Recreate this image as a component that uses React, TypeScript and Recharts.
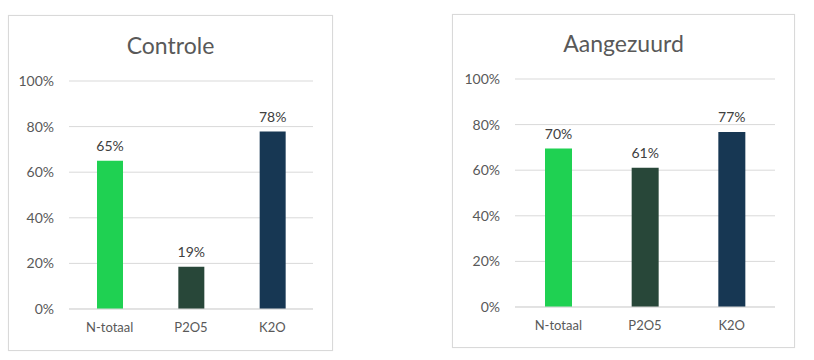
import React from "react";
import { BarChart, Bar, XAxis, YAxis, CartesianGrid, LabelList, Cell } from "recharts";

const categories = ["N-totaal", "P2O5", "K2O"];
const controleValues = [0.65, 0.185, 0.778];
const aangezuurdValues = [0.695, 0.611, 0.767];
const barColors = ["#1fd152", "#284739", "#173753"];
const yTicks = [0, 0.2, 0.4, 0.6, 0.8, 1.0];

const FONT = "Lato, 'Open Sans', sans-serif";
const TEXT = "#595959";

const pct = (v: number) => `${Math.round(v * 100)}%`;

type PanelProps = {
  title: string;
  values: number[];
  left: number;
  top: number;
  width: number;
  height: number;
  plotLeft: number;
  plotRight: number;
  plotTop: number;
  plotBottom: number;
  barSize: number;
  titleY: number;
};

function Panel(p: PanelProps) {
  const data = categories.map((c, i) => ({ name: c, value: p.values[i] }));
  const xAxisHeight = 30;
  return (
    <div
      style={{
        position: "absolute",
        left: p.left,
        top: p.top,
        width: p.width,
        height: p.height,
        border: "1px solid #d9d9d9",
        boxSizing: "border-box",
        background: "#fff",
        boxShadow: "0 0 1px rgba(0,0,0,0.08)",
      }}
    >
      <div
        style={{
          position: "absolute",
          left: 0,
          width: "100%",
          top: p.titleY,
          textAlign: "center",
          fontFamily: FONT,
          fontSize: 23,
          color: TEXT,
          lineHeight: "26px",
        }}
      >
        {p.title}
      </div>
      <div style={{ position: "absolute", left: -1, top: -1 }}>
        <BarChart
          width={p.width}
          height={p.height}
          data={data}
          margin={{
            top: p.plotTop,
            right: p.width - p.plotRight,
            left: 0,
            bottom: p.height - p.plotBottom - xAxisHeight,
          }}
        >
          <CartesianGrid vertical={false} stroke="#d9d9d9" strokeWidth={1} />
          <XAxis
            dataKey="name"
            axisLine={{ stroke: "#d9d9d9" }}
            tickLine={false}
            tickSize={0}
            tickMargin={14}
            height={xAxisHeight}
            tick={{ fill: TEXT, fontSize: 13, fontFamily: FONT }}
          />
          <YAxis
            domain={[0, 1]}
            ticks={yTicks}
            tickFormatter={pct}
            axisLine={false}
            tickLine={false}
            tickSize={0}
            tickMargin={15}
            width={p.plotLeft}
            tick={{ fill: TEXT, fontSize: 14, fontFamily: FONT }}
          />
          <Bar dataKey="value" barSize={p.barSize} isAnimationActive={false}>
            {data.map((_, i) => (
              <Cell key={i} fill={barColors[i]} />
            ))}
            <LabelList
              dataKey="value"
              position="top"
              offset={10}
              formatter={(v: number) => pct(v)}
              style={{ fill: "#404040", fontSize: 14, fontFamily: FONT }}
            />
          </Bar>
        </BarChart>
      </div>
    </div>
  );
}

export default function App() {
  return (
    <div
      style={{
        position: "absolute",
        left: 0,
        top: 0,
        width: 814,
        height: 360,
        background: "#fff",
        overflow: "hidden",
      }}
    >
      <Panel
        title="Controle"
        values={controleValues}
        left={8}
        top={15}
        width={325}
        height={336}
        plotLeft={61}
        plotRight={305}
        plotTop={66}
        plotBottom={294}
        barSize={26}
        titleY={16}
      />
      <Panel
        title="Aangezuurd"
        values={aangezuurdValues}
        left={452}
        top={14}
        width={343}
        height={334}
        plotLeft={63}
        plotRight={323}
        plotTop={65}
        plotBottom={293}
        barSize={27}
        titleY={15}
      />
    </div>
  );
}
